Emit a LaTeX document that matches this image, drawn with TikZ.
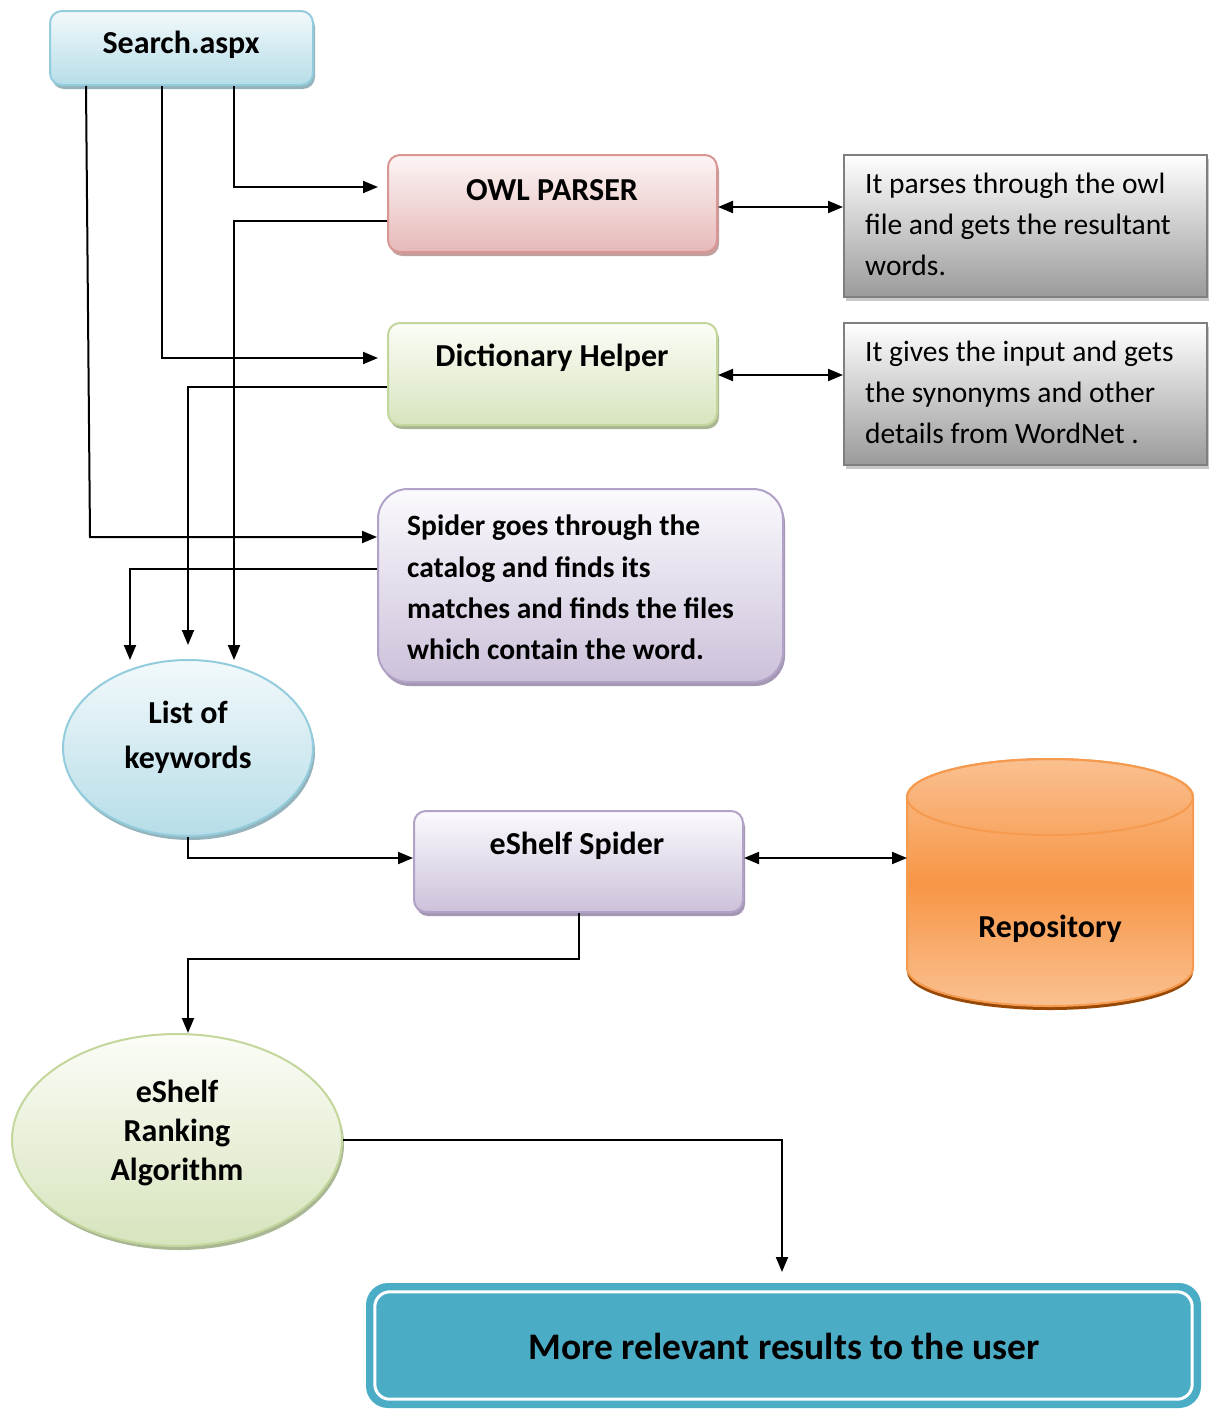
\documentclass[tikz,border=0pt]{standalone}
\usepackage{fontspec}
\setmainfont{Carlito}
\usetikzlibrary{arrows.meta,shapes.geometric,shadows}

\definecolor{blueTop}{HTML}{F2F9FB}
\definecolor{blueBot}{HTML}{B6DDE8}
\definecolor{blueLine}{HTML}{93CDDD}
\definecolor{blueShd}{HTML}{95B3BC}
\definecolor{redTop}{HTML}{FCF5F5}
\definecolor{redBot}{HTML}{E6B9B8}
\definecolor{redLine}{HTML}{D99694}
\definecolor{redShd}{HTML}{C2A09F}
\definecolor{grnTop}{HTML}{FBFDF7}
\definecolor{grnBot}{HTML}{D7E4BD}
\definecolor{grnLine}{HTML}{C3D69B}
\definecolor{grnShd}{HTML}{AAB795}
\definecolor{purTop}{HTML}{FBFAFD}
\definecolor{purBot}{HTML}{CCC1DA}
\definecolor{purLine}{HTML}{B2A2C7}
\definecolor{purShd}{HTML}{A497B3}
\definecolor{gryBot}{HTML}{9A9A9A}
\definecolor{gryLine}{HTML}{7F7F7F}
\definecolor{gryShd}{HTML}{C8C8C8}
\definecolor{orgMid}{HTML}{F79646}
\definecolor{orgEnd}{HTML}{FAC090}
\definecolor{orgLine}{HTML}{F59A4E}
\definecolor{orgShd}{HTML}{984807}
\definecolor{teal}{HTML}{4BACC6}

\begin{document}
\begin{tikzpicture}[x=1pt,y=-1pt,
  tip/.style={-{Triangle[length=15pt,width=12pt]}},
  conn/.style={line width=2pt,tip},
  biconn/.style={line width=2pt,{Triangle[length=15pt,width=12pt]}-{Triangle[length=15pt,width=12pt]}},
  shd/.style={drop shadow={shadow xshift=2pt,shadow yshift=-4pt,fill=#1,opacity=1}},
  rbox/.style={rectangle,rounded corners=12pt,line width=2pt,inner sep=0pt},
  gbox/.style={rectangle,draw=gryLine,line width=2pt,top color=white,bottom color=gryBot,
    shd=gryShd,inner sep=0pt,minimum width=363pt,minimum height=142pt},
  oval/.style={ellipse,line width=2pt,inner sep=0pt},
  title/.style={font=\fontsize{32}{38}\selectfont\bfseries,inner sep=0pt},
  note/.style={font=\fontsize{29.5}{41}\selectfont,align=left,inner sep=0pt,anchor=north west},
  bnote/.style={font=\fontsize{29.5}{41.3}\selectfont\bfseries,align=left,inner sep=0pt,anchor=north west},
]
\useasboundingbox (0,0) rectangle (1209,1416);

% ---------- boxes ----------
\node[rbox,draw=blueLine,top color=blueTop,bottom color=blueBot,shd=blueShd,
  minimum width=263pt,minimum height=74pt] (search) at (181.5,48) {};
\node[title] (searchT) at (181,45) {Search.aspx};

\node[rbox,draw=redLine,top color=redTop,bottom color=redBot,shd=redShd,
  minimum width=329pt,minimum height=97pt] (owl) at (552.5,203.5) {};
\node[title] (owlT) at (552,190) {OWL PARSER};

\node[rbox,draw=grnLine,top color=grnTop,bottom color=grnBot,shd=grnShd,
  minimum width=329pt,minimum height=102pt] (dict) at (552.5,374) {};
\node[title] (dictT) at (552,358) {Dictionary Helper};

\node[gbox] (owlNote) at (1025.5,226) {};
\node[note] (owlNoteT) at (865,173) {It parses through the owl\\file and gets the resultant\\words.};

\node[gbox] (dictNote) at (1025.5,394) {};
\node[note] (dictNoteT) at (865,341) {It gives the input and gets\\the synonyms and other\\details from WordNet .};

\node[rbox,rounded corners=30pt,draw=purLine,top color=purTop,bottom color=purBot,shd=purShd,
  minimum width=405pt,minimum height=193pt] (spider) at (580.5,585.5) {};
\node[bnote] (spiderT) at (407,515) {Spider goes through the\\catalog and finds its\\matches and finds the files\\which contain the word.};

\node[oval,draw=blueLine,top color=blueTop,bottom color=blueBot,shd=blueShd,
  minimum width=250pt,minimum height=176pt] (keys) at (188,748) {};
\node[title,align=center,font=\fontsize{32}{45}\selectfont\bfseries] (keysT) at (188,737) {List of\\keywords};

\node[rbox,draw=purLine,top color=purTop,bottom color=purBot,shd=purShd,
  minimum width=329pt,minimum height=101pt] (eshelf) at (578.5,861.5) {};
\node[title] (eshelfT) at (577,846) {eShelf Spider};

% repository cylinder
\fill[orgShd] (907,972) arc[start angle=180,end angle=360,x radius=143pt,y radius=38pt]
  -- (1193,968) arc[start angle=360,end angle=180,x radius=143pt,y radius=38pt] -- cycle;
\path[draw=orgLine,line width=2pt,top color=orgEnd,bottom color=orgEnd,middle color=orgMid]
  (907,797) -- (907,968) arc[start angle=180,end angle=360,x radius=143pt,y radius=38pt]
  -- (1193,797) arc[start angle=0,end angle=180,x radius=143pt,y radius=38pt] -- cycle;
\draw[orgLine,line width=2pt] (1050,797) ellipse[x radius=143pt,y radius=38pt];
\coordinate (repo) at (907,858);
\node[title] (repoT) at (1050,929) {Repository};

\node[oval,draw=grnLine,top color=grnTop,bottom color=grnBot,shd=grnShd,
  minimum width=330pt,minimum height=212pt] (rank) at (177,1140) {};
\node[title,align=center,font=\fontsize{32}{39}\selectfont\bfseries] (rankT) at (177,1133) {eShelf\\Ranking\\Algorithm};

\node[rectangle,rounded corners=22pt,fill=teal,inner sep=0pt,
  minimum width=835pt,minimum height=125pt] (result) at (783.5,1345.5) {};
\draw[white,line width=3pt,rounded corners=15pt]
  ([shift={(9pt,-9pt)}]result.north west) rectangle ([shift={(-9pt,9pt)}]result.south east);
\node[title,font=\fontsize{37.5}{42}\selectfont\bfseries] (resultT) at (784,1346) {More relevant results to the user};

% ---------- connectors ----------
\draw[conn] (234,0 |- search.south) |- (378,187);
\draw[conn] (162,0 |- search.south) |- (378,358);
\draw[conn] (86,0 |- search.south) -- (90,537) -- (spider.west |- 0,537);
\draw[conn] (owl.west |- 0,221) -| (234,660);
\draw[conn] (dict.west |- 0,387) -| (188,645);
\draw[conn] (spider.west |- 0,569) -| (130,660);
\draw[biconn] (owl.east |- 0,207) -- (owlNote.west |- 0,207);
\draw[biconn] (dict.east |- 0,375) -- (dictNote.west |- 0,375);
\draw[conn] (keys.south) |- (eshelf.west |- 0,858);
\draw[biconn] (eshelf.east |- 0,858) -- (repo);
\draw[conn] (eshelf.south) |- (188,959) -- (rank.north -| 188,0);
\draw[conn] (rank.east) -| (782,1272);
\end{tikzpicture}
\end{document}
